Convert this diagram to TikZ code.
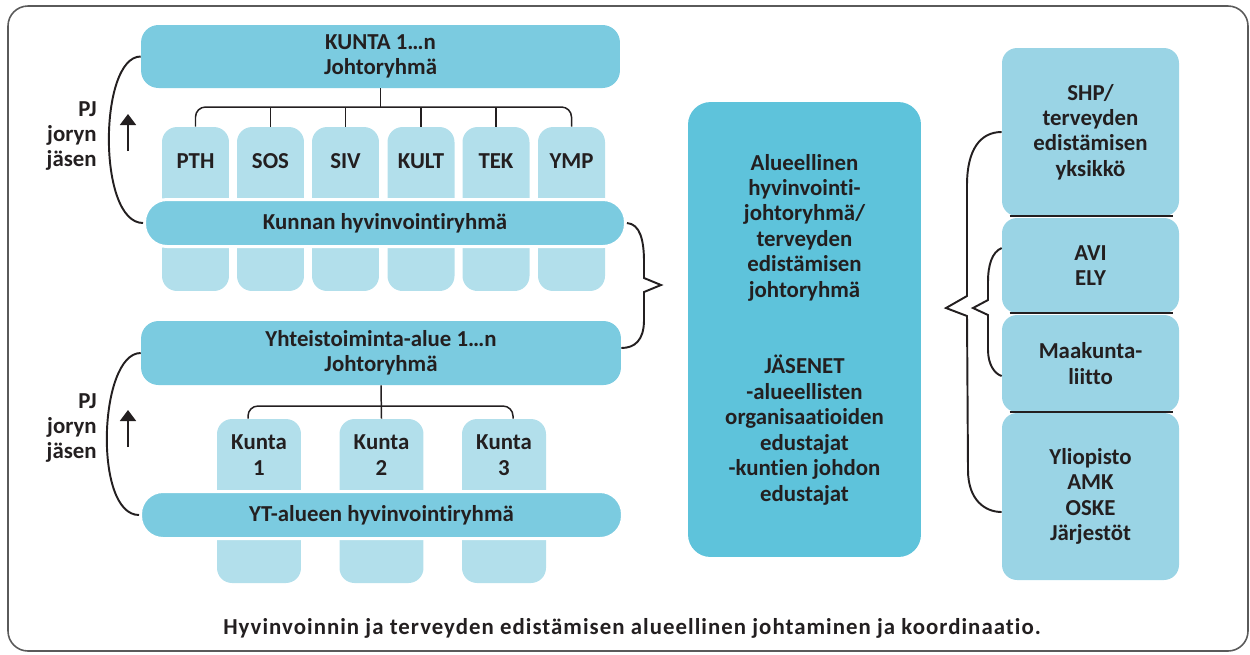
\documentclass[tikz,border=0pt]{standalone}
\usepackage{fontspec}
\setmainfont{Carlito}[Ligatures=NoCommon]
\usetikzlibrary{arrows.meta,positioning}
\definecolor{hvmid}{HTML}{7BCBE0}
\definecolor{hvlight}{HTML}{B2DFEB}
\definecolor{hvdark}{HTML}{5EC3DB}
\definecolor{hvside}{HTML}{9AD4E5}
\definecolor{hvtext}{HTML}{231F20}
\definecolor{hvframe}{HTML}{5A5A5A}
\tikzset{
  txt/.style={font=\fontsize{13}{14.5}\selectfont\bfseries,text=hvtext,align=center,inner sep=0pt},
  captxt/.style={txt,font=\fontsize{13}{14.5}\selectfont\bfseries\addfontfeature{LetterSpace=4.5}},
  headbox/.style={txt,fill=hvmid,rounded corners=0.35cm,minimum width=9.58cm,minimum height=1.26cm},
  bandbox/.style={txt,fill=hvmid,draw=white,line width=0.06cm,rounded corners=0.45cm,minimum width=9.62cm,minimum height=0.94cm},
  colbox/.style={fill=hvlight,rounded corners=0.3cm,minimum width=1.34cm,minimum height=3.28cm,inner sep=0pt},
  kcolbox/.style={colbox,minimum width=1.68cm},
  mainbox/.style={txt,fill=hvdark,rounded corners=0.45cm,minimum width=4.66cm,minimum height=9.1cm},
  sidebox/.style={txt,fill=hvside,rounded corners=0.3cm,minimum width=3.54cm},
  treeline/.style={draw=hvtext,line width=0.85pt},
  braceline/.style={draw=hvtext,line width=1.1pt},
  sepline/.style={draw=hvtext,line width=1.3pt},
  uparrow/.style={-{Triangle[width=0.32cm,length=0.22cm]},draw=hvtext,line width=1.1pt},
}

\begin{document}
\begin{tikzpicture}[x=0.02cm,y=-0.02cm]
  \useasboundingbox (0,0) rectangle (1250,654);
  \draw[hvframe,line width=0.9pt,rounded corners=0.4cm] (8,6) rectangle (1248,651);
  % kunta level
  \node[colbox] (cpth) at (195.5,209) {};
  \node[colbox] (csos) at (270.5,209) {};
  \node[colbox] (csiv) at (345.5,209) {};
  \node[colbox] (ckult) at (421,209) {};
  \node[colbox] (ctek) at (496,209) {};
  \node[colbox] (cymp) at (571.5,209) {};
  \node[txt] (tpth) at (195.5,161) {PTH};
  \node[txt] (tsos) at (270.5,161) {SOS};
  \node[txt] (tsiv) at (345.5,161) {SIV};
  \node[txt] (tkult) at (421,161) {KULT};
  \node[txt] (ttek) at (496,161) {TEK};
  \node[txt] (tymp) at (571.5,161) {YMP};
  \node[headbox] (khead) at (380.5,56.5) {KUNTA 1…n\\Johtoryhmä};
  \node[bandbox] (kband) at (385,223) {Kunnan hyvinvointiryhmä};
  \coordinate (kbar) at (380.5,107);
  \draw[treeline] (khead.south) -- (kbar);
  \draw[treeline,rounded corners=0.2cm] (cpth.north) |- (kbar) -| (cymp.north);
  \draw[treeline] (csos.north) -- (csos.north |- kbar);
  \draw[treeline] (csiv.north) -- (csiv.north |- kbar);
  \draw[treeline] (ckult.north) -- (ckult.north |- kbar);
  \draw[treeline] (ctek.north) -- (ctek.north |- kbar);
  \draw[braceline] (khead.west) .. controls +(-42,0) and +(-46,0) .. (kband.west);
  \coordinate (a1s) at (128,151);
  \coordinate (a1e) at (128,114);
  \draw[uparrow] (a1s) -- (a1e);
  \node[txt,align=right,anchor=east] (pj1) at (97,136) {PJ\\joryn\\jäsen};
  % yhteistoiminta-alue level
  \node[kcolbox] (ck1) at (259,501) {};
  \node[kcolbox] (ck2) at (381.5,501) {};
  \node[kcolbox] (ck3) at (504,501) {};
  \node[txt] (tk1) at (259,455) {Kunta\\1};
  \node[txt] (tk2) at (381.5,455) {Kunta\\2};
  \node[txt] (tk3) at (504,455) {Kunta\\3};
  \node[headbox,minimum width=9.6cm,minimum height=1.28cm] (yhead) at (381,353) {Yhteistoiminta-alue 1…n\\Johtoryhmä};
  \node[bandbox,minimum width=9.64cm] (yband) at (381.5,515) {YT-alueen hyvinvointiryhmä};
  \coordinate (ybar) at (381.5,406);
  \draw[treeline] (yhead.south) -- (ck2.north);
  \draw[treeline,rounded corners=0.2cm] ([xshift=-0.22cm]ck1.north) |- (ybar) -| ([xshift=0.18cm]ck3.north);
  \draw[braceline] (yhead.west) .. controls +(-42,0) and +(-46,0) .. (yband.west);
  \coordinate (a2s) at (128,447);
  \coordinate (a2e) at (128,410);
  \draw[uparrow] (a2s) -- (a2e);
  \node[txt,align=right,anchor=east] (pj2) at (97,428) {PJ\\joryn\\jäsen};
  % alueellinen johtoryhma
  \draw[braceline] (kband.east) .. controls (640,224) and (644,240) .. (644,262) -- (644,278) -- (661,285) -- (644,292) -- (644,320) .. controls (644,340) and (635,348) .. ([yshift=0.1cm]yhead.east);
  \node[mainbox] (alue) at (804.5,329.5) {Alueellinen\\hyvinvointi-\\johtoryhmä/\\terveyden\\edistämisen\\johtoryhmä\\[29pt]JÄSENET\\-alueellisten\\organisaatioiden\\edustajat\\-kuntien johdon\\edustajat};
  % muut organisaatiot
  \node[sidebox,minimum height=3.36cm] (shp) at (1090.5,132) {SHP/\\terveyden\\edistämisen\\yksikkö};
  \node[sidebox,minimum height=1.9cm] (avi) at (1090.5,265.5) {AVI\\ELY};
  \node[sidebox,minimum height=1.94cm] (maak) at (1090.5,363.5) {Maakunta-\\liitto};
  \node[sidebox,minimum height=3.34cm] (yli) at (1090.5,496.5) {Yliopisto\\AMK\\OSKE\\Järjestöt};
  \draw[sepline] ([xshift=0.16cm]shp.south west) -- ([xshift=-0.12cm]shp.south east);
  \draw[sepline] ([xshift=0.16cm]avi.south west) -- ([xshift=-0.12cm]avi.south east);
  \draw[sepline] ([xshift=0.16cm]maak.south west) -- ([xshift=-0.12cm]maak.south east);
  \draw[braceline] (shp.west) .. controls (980,132) and (967,150) .. (967,185) -- (967,296) -- (946,308) -- (967,316) -- (968,470) .. controls (968,500) and (985,512) .. ([yshift=-0.31cm]yli.west);
  \draw[braceline] ([yshift=0.35cm]avi.west) .. controls (992,252) and (988,265) .. (988,282) -- (988,300) -- (973,308) -- (988,315) -- (988,350) .. controls (988,365) and (995,374) .. ([yshift=-0.25cm]maak.west);
  \node[captxt] (caption) at (632,628) {Hyvinvoinnin ja terveyden edistämisen alueellinen johtaminen ja koordinaatio.};
\end{tikzpicture}
\end{document}
